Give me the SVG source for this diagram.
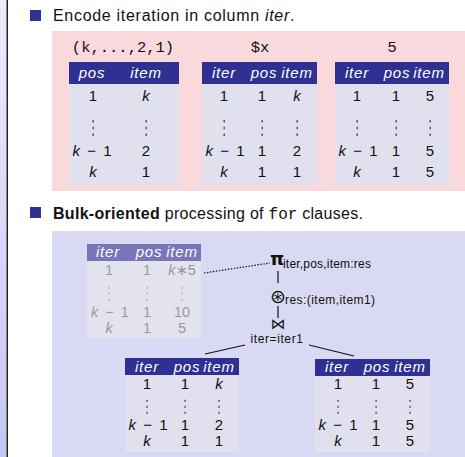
<svg xmlns="http://www.w3.org/2000/svg" width="465" height="457" viewBox="0 0 465 457">
  <defs>
    <linearGradient id="sidebar" x1="0" y1="0" x2="0" y2="1">
      <stop offset="0" stop-color="#ececfc"/>
      <stop offset="1" stop-color="#c6c6f6"/>
    </linearGradient>
    <style>
      .t { font-family: "Liberation Sans", "DejaVu Sans", sans-serif; fill: #111; }
      .title { font-size: 16px; }
      .mono { font-family: "Liberation Mono", monospace; letter-spacing: 0; }
      .hd { fill: #2e3192; }
      .hdf { fill: #7a74b8; }
      .body { fill: #e0e0ee; }
      .bodyf { fill: #e3e3ef; }
      .ht { font-family: "Liberation Sans", "DejaVu Sans", sans-serif; font-style: italic; font-size: 15px; letter-spacing: 0.8px; fill: #fff; text-anchor: middle; }
      .c { font-family: "Liberation Sans", "DejaVu Sans", sans-serif; font-size: 15px; fill: #111; text-anchor: middle; }
      .m { word-spacing: 3px; }
      .cf { fill: #9a9a9a; font-size: 14.5px; }
      .dots { font-family: "DejaVu Sans", sans-serif; font-size: 11px; fill: #333; text-anchor: middle; }
      .cf.dots { fill: #aaa; font-size: 11px; }
      .it { font-style: italic; }
      .op { font-family: "DejaVu Sans", sans-serif; fill: #111; }
      .sub { font-family: "Liberation Sans", "DejaVu Sans", sans-serif; font-size: 12px; fill: #111; }
      .edge { stroke: #111; stroke-width: 1.2; fill: none; }
    </style>
  </defs>

  <!-- page background and sidebar -->
  <rect x="0" y="0" width="465" height="457" fill="#fff"/>
  <rect x="0" y="0" width="6.5" height="457" fill="url(#sidebar)"/>
  <rect x="6.5" y="0" width="1.5" height="457" fill="#222"/>

  <!-- first bullet -->
  <rect x="30" y="10" width="11" height="11" fill="#2e3192"/>
  <text class="t title" x="53" y="21" letter-spacing="0.7">Encode iteration in column <tspan class="it">iter</tspan>.</text>

  <rect x="52" y="31" width="413" height="160" fill="#f9d9dc"/>

  <!-- sequence (k,...,2,1) -->
  <g id="seq">
    <text class="t mono" x="123" y="52" font-size="15.5" text-anchor="middle">(k,...,2,1)</text>
    <rect class="hd" x="69" y="62" width="110" height="22"/>
    <rect class="body" x="69" y="84" width="110" height="101"/>
    <text class="ht" x="92" y="78">pos</text>
    <text class="ht" x="146" y="78">item</text>
    <text class="c" x="93" y="101">1</text>
    <text class="c it" x="146" y="101">k</text>
    <text class="dots" transform="translate(93 134) scale(1 1.75)">⋮</text>
    <text class="dots" transform="translate(146 134) scale(1 1.75)">⋮</text>
    <text class="c m" x="92" y="156"><tspan class="it">k</tspan> − 1</text>
    <text class="c" x="146" y="156">2</text>
    <text class="c it" x="93" y="177">k</text>
    <text class="c" x="146" y="177">1</text>
  </g>

  <!-- variable $x -->
  <g id="varx">
    <text class="t mono" x="260" y="52" font-size="15.5" text-anchor="middle">$x</text>
    <rect class="hd" x="202" y="62" width="115" height="22"/>
    <rect class="body" x="202" y="84" width="115" height="101"/>
    <text class="ht" x="224" y="78">iter</text>
    <text class="ht" x="264" y="78">pos</text>
    <text class="ht" x="297" y="78">item</text>
    <text class="c" x="224" y="101">1</text>
    <text class="c" x="262" y="101">1</text>
    <text class="c it" x="297" y="101">k</text>
    <text class="dots" transform="translate(224 134) scale(1 1.75)">⋮</text>
    <text class="dots" transform="translate(262 134) scale(1 1.75)">⋮</text>
    <text class="dots" transform="translate(297 134) scale(1 1.75)">⋮</text>
    <text class="c m" x="225" y="156"><tspan class="it">k</tspan> − 1</text>
    <text class="c" x="262" y="156">1</text>
    <text class="c" x="297" y="156">2</text>
    <text class="c it" x="224" y="177">k</text>
    <text class="c" x="262" y="177">1</text>
    <text class="c" x="297" y="177">1</text>
  </g>

  <!-- constant 5 -->
  <g id="const5">
    <text class="t" x="392" y="52" font-size="15.5" text-anchor="middle">5</text>
    <rect class="hd" x="335" y="62" width="114" height="22"/>
    <rect class="body" x="335" y="84" width="114" height="101"/>
    <text class="ht" x="357" y="78">iter</text>
    <text class="ht" x="397" y="78">pos</text>
    <text class="ht" x="429" y="78">item</text>
    <text class="c" x="357" y="101">1</text>
    <text class="c" x="396" y="101">1</text>
    <text class="c" x="430" y="101">5</text>
    <text class="dots" transform="translate(357 134) scale(1 1.75)">⋮</text>
    <text class="dots" transform="translate(396 134) scale(1 1.75)">⋮</text>
    <text class="dots" transform="translate(430 134) scale(1 1.75)">⋮</text>
    <text class="c m" x="358" y="156"><tspan class="it">k</tspan> − 1</text>
    <text class="c" x="396" y="156">1</text>
    <text class="c" x="430" y="156">5</text>
    <text class="c it" x="357" y="177">k</text>
    <text class="c" x="396" y="177">1</text>
    <text class="c" x="430" y="177">5</text>
  </g>

  <!-- second bullet -->
  <rect x="30" y="207" width="11" height="11" fill="#2e3192"/>
  <text class="t title" x="53" y="219" letter-spacing="0.3"><tspan font-weight="bold">Bulk-oriented</tspan> processing of <tspan class="mono">for</tspan> clauses.</text>

  <rect x="52" y="231" width="413" height="226" fill="#d9d9f3"/>

  <!-- connectors -->
  <g id="connectors">
    <line class="edge" x1="204" y1="273" x2="270" y2="263" stroke-width="1" stroke-dasharray="1.5 1.5"/>
    <line class="edge" x1="278" y1="271" x2="278" y2="283"/>
    <line class="edge" x1="278" y1="306" x2="278" y2="318"/>
    <line class="edge" x1="205" y1="354" x2="245" y2="345"/>
    <line class="edge" x1="309" y1="345" x2="354" y2="356"/>
  </g>

  <!-- result table (faded) -->
  <g id="result">
    <rect class="hdf" x="87" y="244" width="114" height="17"/>
    <rect class="bodyf" x="87" y="261" width="114" height="77"/>
    <text class="ht" x="108" y="257">iter</text>
    <text class="ht" x="149" y="257">pos</text>
    <text class="ht" x="182" y="257">item</text>
    <text class="c cf" x="109" y="275">1</text>
    <text class="c cf" x="147" y="275">1</text>
    <text class="c cf" x="182" y="275"><tspan class="it">k</tspan>∗5</text>
    <text class="cf dots" transform="translate(109 298.5) scale(1 1.6)">⋮</text>
    <text class="cf dots" transform="translate(147 298.5) scale(1 1.6)">⋮</text>
    <text class="cf dots" transform="translate(182 298.5) scale(1 1.6)">⋮</text>
    <text class="c cf m" x="110" y="316.5"><tspan class="it">k</tspan> − 1</text>
    <text class="c cf" x="147" y="316.5">1</text>
    <text class="c cf" x="182" y="316.5">10</text>
    <text class="c cf it" x="109" y="333">k</text>
    <text class="c cf" x="147" y="333">1</text>
    <text class="c cf" x="182" y="333">5</text>
  </g>

  <!-- projection -->
  <g id="project">
    <text class="op" x="277" y="265" font-size="18" font-weight="bold" text-anchor="middle">π</text>
    <text class="sub" x="283" y="268" letter-spacing="0.2">iter,pos,item:res</text>
  </g>

  <!-- arithmetic operator -->
  <g id="mult">
    <text class="op" x="278" y="302.5" font-size="19" text-anchor="middle">⊛</text>
    <text class="sub" x="285" y="304" letter-spacing="0.45">res:(item,item1)</text>
  </g>

  <!-- join -->
  <g id="join">
    <text class="op" x="278" y="329" font-size="15" text-anchor="middle">⋈</text>
    <text class="sub" x="277" y="343" letter-spacing="0.6" text-anchor="middle">iter=iter1</text>
  </g>

  <!-- left input: $x -->
  <g id="left">
    <rect class="hd" x="125" y="358" width="114" height="17"/>
    <rect class="body" x="125" y="375" width="114" height="77"/>
    <text class="ht" x="147" y="372">iter</text>
    <text class="ht" x="187" y="372">pos</text>
    <text class="ht" x="219" y="372">item</text>
    <text class="c" x="147" y="389">1</text>
    <text class="c" x="185" y="389">1</text>
    <text class="c it" x="219" y="389">k</text>
    <text class="dots" transform="translate(147 412) scale(1 1.6)">⋮</text>
    <text class="dots" transform="translate(185 412) scale(1 1.6)">⋮</text>
    <text class="dots" transform="translate(219 412) scale(1 1.6)">⋮</text>
    <text class="c m" x="148" y="430"><tspan class="it">k</tspan> − 1</text>
    <text class="c" x="185" y="430">1</text>
    <text class="c" x="219" y="430">2</text>
    <text class="c it" x="147" y="446">k</text>
    <text class="c" x="185" y="446">1</text>
    <text class="c" x="219" y="446">1</text>
  </g>

  <!-- right input: constant 5 -->
  <g id="right">
    <rect class="hd" x="315" y="359" width="115" height="17"/>
    <rect class="body" x="315" y="376" width="115" height="76"/>
    <text class="ht" x="337" y="372">iter</text>
    <text class="ht" x="377" y="372">pos</text>
    <text class="ht" x="410" y="372">item</text>
    <text class="c" x="338" y="389">1</text>
    <text class="c" x="376" y="389">1</text>
    <text class="c" x="410" y="389">5</text>
    <text class="dots" transform="translate(338 412) scale(1 1.6)">⋮</text>
    <text class="dots" transform="translate(376 412) scale(1 1.6)">⋮</text>
    <text class="dots" transform="translate(410 412) scale(1 1.6)">⋮</text>
    <text class="c m" x="338" y="430"><tspan class="it">k</tspan> − 1</text>
    <text class="c" x="376" y="430">1</text>
    <text class="c" x="410" y="430">5</text>
    <text class="c it" x="338" y="446">k</text>
    <text class="c" x="376" y="446">1</text>
    <text class="c" x="410" y="446">5</text>
  </g>
</svg>
